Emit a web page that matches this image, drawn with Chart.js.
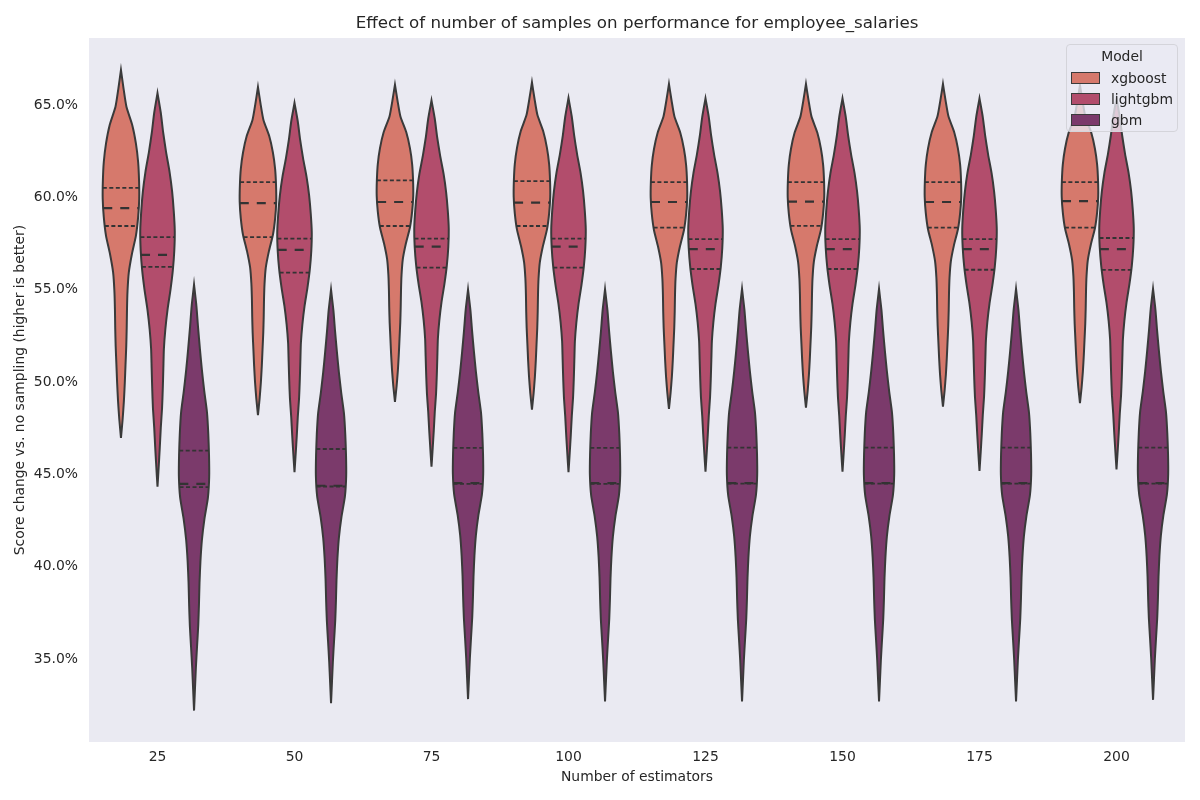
<!DOCTYPE html>
<html>
<head>
<meta charset="utf-8">
<script src="https://cdn.jsdelivr.net/npm/chart.js@4.4.0/dist/chart.umd.min.js"></script>
<style>
  body { margin: 0; background: #fff; font-family: "DejaVu Sans", sans-serif; }
  #wrap { position: relative; width: 1200px; height: 800px; }
  #legend {
    position: absolute; left: 1066px; top: 44px; width: 112px; height: 88px;
    box-sizing: border-box; border: 1px solid #d4d4da; border-radius: 4px;
    background: rgba(234, 234, 242, 0.8); color: #262626; font-size: 13.9px;
  }
  #legend .lt { position: absolute; left: 0; right: 0; top: 3px; text-align: center; }
  #legend .row { position: absolute; left: 4px; height: 16px; line-height: 16px; }
  #legend .sw { position: absolute; left: 0; top: 2px; width: 27px; height: 10px; border: 1px solid #3b3b3b; }
  #legend .tx { position: absolute; left: 40px; top: 0; white-space: nowrap; }
</style>
</head>
<body>
<div id="wrap">
  <canvas id="myChart" width="1200" height="800"></canvas>
  <div id="legend"><div class="lt">Model</div></div>
</div>
<script>
// categories and models
const categories = ['25', '50', '75', '100', '125', '150', '175', '200'];
const models = ['xgboost', 'lightgbm', 'gbm'];
const colors = ['#D6796C', '#B24D6C', '#7B3A6B'];
const yTicks = [35, 40, 45, 50, 55, 60, 65];

// [min, q1, median, q3, max] per number of estimators (in %)
const xgboostStats = [
  [46.97, 58.45, 59.42, 60.51, 66.90],
  [48.21, 57.85, 59.69, 60.83, 65.97],
  [48.92, 58.45, 59.75, 60.92, 66.10],
  [48.50, 58.45, 59.71, 60.88, 66.23],
  [48.54, 58.36, 59.75, 60.83, 66.14],
  [48.61, 58.46, 59.77, 60.83, 66.14],
  [48.66, 58.36, 59.75, 60.83, 66.14],
  [48.85, 58.36, 59.80, 60.83, 66.08]
];
const lightgbmStats = [
  [44.33, 56.24, 56.89, 57.85, 65.65],
  [45.11, 55.92, 57.16, 57.76, 65.11],
  [45.41, 56.19, 57.33, 57.76, 65.25],
  [45.11, 56.19, 57.33, 57.76, 65.38],
  [45.14, 56.12, 57.20, 57.74, 65.36],
  [45.14, 56.12, 57.20, 57.74, 65.36],
  [45.18, 56.08, 57.20, 57.74, 65.36],
  [45.27, 56.07, 57.20, 57.80, 65.36]
];
const gbmStats = [
  [32.20, 44.30, 44.48, 46.28, 55.27],
  [32.60, 44.34, 44.38, 46.37, 55.00],
  [32.82, 44.48, 44.52, 46.43, 55.00],
  [32.69, 44.48, 44.52, 46.43, 55.02],
  [32.69, 44.50, 44.52, 46.44, 55.04],
  [32.69, 44.50, 44.52, 46.44, 55.04],
  [32.69, 44.50, 44.52, 46.44, 55.04],
  [32.78, 44.50, 44.52, 46.44, 55.04]
];

// relative density from min (first) to max (last)
const xgboostShape = [0, .09, .16, .21, .25, .29, .315, .33, .36, .43, .60, .82, .94, 1.0, .99, .94, .82, .62, .30, .14, 0];
const lightgbmShape = [0, .065, .126, .18, .25, .29, .32, .35, .43, .55, .71, .84, .92, .945, .89, .80, .66, .47, .31, .18, 0];
const gbmShape = [0, .05, .10, .164, .23, .27, .30, .35, .43, .57, .76, .83, .82, .78, .71, .56, .43, .32, .22, .13, 0];

const statsByModel = [xgboostStats, lightgbmStats, gbmStats];
const shapes = [xgboostShape, lightgbmShape, gbmShape];
const halfWidth = 0.1333;
const dodge = 0.2667;
const edge = '#3a3a3a';

function widthAt(shape, f) {
  const p = Math.max(0, Math.min(1, f)) * (shape.length - 1);
  const i = Math.min(Math.floor(p), shape.length - 2);
  const t = p - i;
  return shape[i] * (1 - t) + shape[i + 1] * t;
}

const datasets = [];
statsByModel.forEach((stats, m) => {
  const shape = shapes[m];
  const n = shape.length;
  stats.forEach((s, c) => {
    const [lo, q1, med, q3, hi] = s;
    const cx = c + (m - 1) * dodge;
    const pts = [];
    for (let k = 0; k < n; k++) pts.push({ x: cx + shape[k] * halfWidth, y: lo + (hi - lo) * k / (n - 1) });
    for (let k = n - 1; k >= 0; k--) pts.push({ x: cx - shape[k] * halfWidth, y: lo + (hi - lo) * k / (n - 1) });
    datasets.push({
      label: models[m], data: pts, showLine: true, fill: 'shape',
      backgroundColor: colors[m], borderColor: edge, borderWidth: 2,
      pointRadius: 0, tension: 0.2, order: 1
    });
    [[q1, [4, 2.5], 1.8], [med, [9, 8], 2.2], [q3, [4, 2.5], 1.8]].forEach(([v, dash, bw]) => {
      const w = widthAt(shape, (v - lo) / (hi - lo)) * halfWidth;
      datasets.push({
        data: [{ x: cx - w, y: v }, { x: cx + w, y: v }], showLine: true, fill: false,
        borderColor: '#333', borderWidth: bw, borderDash: dash, borderCapStyle: 'butt',
        pointRadius: 0, order: 0
      });
    });
  });
});

const plotBg = {
  id: 'plotBg',
  beforeDraw(chart) {
    const { ctx, chartArea: a } = chart;
    ctx.save();
    ctx.fillStyle = '#EAEAF2';
    ctx.fillRect(a.left, a.top, a.right - a.left, a.bottom - a.top);
    ctx.restore();
  }
};

Chart.defaults.font.family = '"DejaVu Sans", sans-serif';
Chart.defaults.color = '#262626';

const myChart = new Chart('myChart', {
  type: 'scatter',
  data: { datasets: datasets },
  plugins: [plotBg],
  options: {
    responsive: false,
    animation: false,
    layout: { padding: { right: 15 } },
    plugins: {
      legend: { display: false },
      tooltip: { enabled: false },
      title: {
        display: true, fullSize: false,
        text: 'Effect of number of samples on performance for employee_salaries',
        font: { size: 16.7, weight: 'normal' }, color: '#262626',
        padding: { top: 14, bottom: 4 }
      }
    },
    scales: {
      x: {
        type: 'linear', min: -0.5, max: 7.5,
        grid: { display: false, drawTicks: false }, border: { display: false },
        afterBuildTicks: (scale) => { scale.ticks = categories.map((_, i) => ({ value: i })); },
        afterFit: (scale) => { scale.height = 58; },
        ticks: { padding: 7, font: { size: 13.9 }, color: '#262626', callback: (v) => categories[v] },
        title: { display: true, text: 'Number of estimators', font: { size: 13.9 }, color: '#262626', padding: { top: 4, bottom: 14 } }
      },
      y: {
        type: 'linear', min: 30.5, max: 68.63,
        grid: { display: false, drawTicks: false }, border: { display: false },
        afterBuildTicks: (scale) => { scale.ticks = yTicks.map(v => ({ value: v })); },
        afterFit: (scale) => { scale.width = 89; },
        ticks: { padding: 11, font: { size: 13.9 }, color: '#262626', callback: (v) => v.toFixed(1) + '%' },
        title: { display: true, text: 'Score change vs. no sampling (higher is better)', font: { size: 13.9 }, color: '#262626', padding: { top: 12, bottom: 4 } }
      }
    }
  }
});

// legend from the model names and colours
const legend = document.getElementById('legend');
models.forEach((name, i) => {
  const row = document.createElement('div');
  row.className = 'row';
  row.style.top = (25 + i * 21) + 'px';
  row.innerHTML = '<span class="sw" style="background:' + colors[i] + '"></span><span class="tx">' + name + '</span>';
  legend.appendChild(row);
});
</script>
</body>
</html>
